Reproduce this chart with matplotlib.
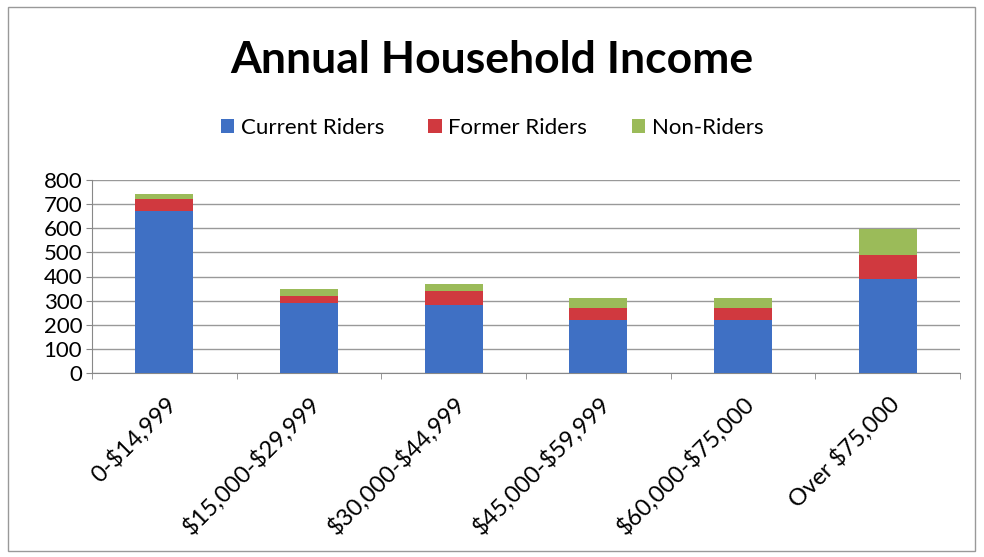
import numpy as np
import matplotlib
matplotlib.use("Agg")
import matplotlib.pyplot as plt
from matplotlib.patches import Rectangle

categories = ["0-$14,999", "$15,000-$29,999", "$30,000-$44,999",
              "$45,000-$59,999", "$60,000-$75,000", "Over $75,000"]
current = [670, 290, 280, 218, 218, 390]
former = [52, 30, 60, 50, 50, 100]
non_riders = [20, 30, 30, 44, 44, 105]

plt.rcParams['font.family'] = ['Lato', 'DejaVu Sans']
plt.rcParams['text.parse_math'] = False

fig = plt.figure(figsize=(9.84, 5.57), dpi=100)
ax = fig.add_axes([92 / 984, 1 - 373 / 557, 868 / 984, 193 / 557])

x = np.arange(len(categories))
w = 0.4
ax.bar(x, current, w, color="#3F70C4", label="Current Riders", zorder=3)
ax.bar(x, former, w, bottom=current, color="#D0393F", label="Former Riders", zorder=3)
bottom2 = np.array(current) + np.array(former)
ax.bar(x, non_riders, w, bottom=bottom2, color="#9BBB59", label="Non-Riders", zorder=3)

ax.set_xlim(-0.5, 5.5)
ax.set_ylim(0, 800)
ax.set_yticks(range(0, 801, 100))
ax.tick_params(axis='y', labelsize=16, length=4, color="#888888", pad=3)
ax.yaxis.grid(True, color="#999999", linewidth=1, zorder=0)
ax.set_xticks(x)
ax.set_xticklabels(categories, rotation=45, ha='right', rotation_mode='anchor', fontsize=17)
ax.tick_params(axis='x', length=0, pad=14)
ax.set_xticks(np.arange(-0.5, 6, 1), minor=True)
ax.tick_params(axis='x', which='minor', length=4, color="#888888")

for s in ['top', 'right']:
    ax.spines[s].set_visible(False)
ax.spines['left'].set_color("#888888")
ax.spines['bottom'].set_color("#888888")

fig.text(0.5, 1 - 60 / 557, "Annual Household Income", ha='center', va='center',
         fontsize=32, fontweight='bold')
fig.legend(loc='center', bbox_to_anchor=(0.5, 1 - 128 / 557), ncol=3, frameon=False,
           fontsize=16, handlelength=0.6, handleheight=0.6, handletextpad=0.3,
           columnspacing=2.0)

fig.patches.append(Rectangle((8 / 984, 6 / 557), 967 / 984, 544 / 557,
                             transform=fig.transFigure, fill=False,
                             edgecolor="#999999", linewidth=1))

fig.savefig("out.png", dpi=100)
